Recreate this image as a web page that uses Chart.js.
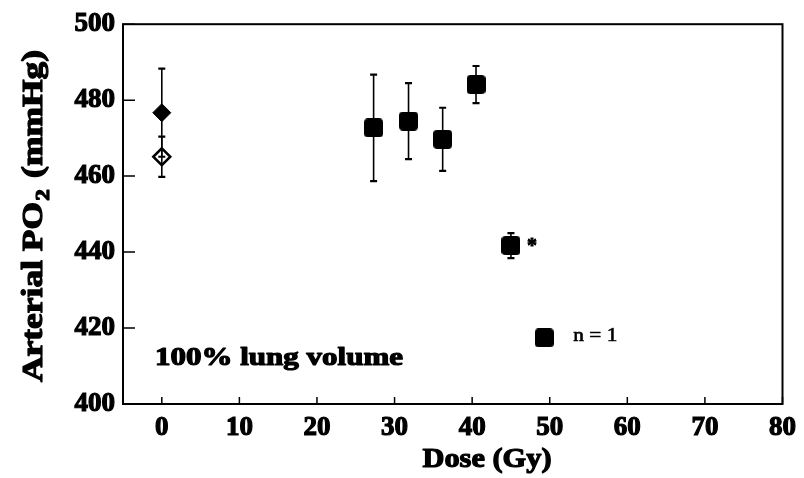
<!DOCTYPE html>
<html><head><meta charset="utf-8">
<script src="https://cdn.jsdelivr.net/npm/chart.js@4"></script>
<style>html,body{margin:0;padding:0;background:#fff}#wrap{width:804px;height:478px}</style>
</head><body><div id="wrap"><canvas id="c" width="804" height="478"></canvas></div>
<script>
// ---- data ----
const xTickValues = [0, 10, 20, 30, 40, 50, 60, 70, 80];
const yTickValues = [400, 420, 440, 460, 480, 500];
const controlDose = [0];
const controlFilledPO2 = [476.7];
const controlFilledErr = [11.6];
const controlOpenPO2 = [465.1];
const controlOpenErr = [5.3];
const irradDose = [27.3, 31.8, 36.2, 40.5, 45.0];
const irradPO2 = [472.7, 474.5, 469.7, 484.1, 441.7];
const irradErr = [14.0, 10.0, 8.3, 4.9, 3.3];
const singleDose = [49.3];
const singlePO2 = [417.4];
const xTitle = 'Dose (Gy)';
const yTitleParts = ['Arterial PO', '2', ' (mmHg)'];
const panelLabel = '100% lung volume';
const singleLabel = 'n = 1';
const sigMark = '*';
const sigIndex = 4;

const FONT = "'Liberation Serif', 'Times New Roman', serif";
const pts = (xs, ys) => xs.map((x, i) => ({x: x, y: ys[i]}));

function roundedSquare(size, r) {
  const c = document.createElement('canvas');
  c.width = size; c.height = size;
  const g = c.getContext('2d');
  g.fillStyle = '#000';
  g.beginPath();
  g.moveTo(r, 0); g.lineTo(size - r, 0); g.quadraticCurveTo(size, 0, size, r);
  g.lineTo(size, size - r); g.quadraticCurveTo(size, size, size - r, size);
  g.lineTo(r, size); g.quadraticCurveTo(0, size, 0, size - r);
  g.lineTo(0, r); g.quadraticCurveTo(0, 0, r, 0);
  g.closePath(); g.fill();
  return c;
}
const squareMark = roundedSquare(19, 4);

const errorBarPlugin = {
  id: 'errorBars',
  afterDatasetsDraw(chart) {
    const ctx = chart.ctx, xs = chart.scales.x, ys = chart.scales.y;
    ctx.save();
    ctx.strokeStyle = '#000';
    chart.data.datasets.forEach(ds => {
      if (!ds.errorBars) return;
      ds.data.forEach((p, i) => {
        const e = ds.errorBars[i];
        const px = xs.getPixelForValue(p.x);
        const top = ys.getPixelForValue(p.y + e);
        const bot = ys.getPixelForValue(p.y - e);
        ctx.lineWidth = 1.6;
        ctx.beginPath(); ctx.moveTo(px, top); ctx.lineTo(px, bot); ctx.stroke();
        ctx.lineWidth = 2.2;
        ctx.beginPath();
        ctx.moveTo(px - 3.5, top); ctx.lineTo(px + 3.5, top);
        ctx.moveTo(px - 3.5, bot); ctx.lineTo(px + 3.5, bot);
        ctx.stroke();
      });
    });
    ctx.restore();
  }
};

function fitText(ctx, text, font, x, y, w, align, stroke) {
  ctx.save();
  ctx.font = font;
  const m = ctx.measureText(text).width;
  const s = w / m;
  ctx.translate(x, y);
  ctx.scale(s, 1);
  ctx.textAlign = 'left';
  const ox = align === 'center' ? -m / 2 : 0;
  ctx.fillText(text, ox, 0);
  if (stroke) { ctx.lineWidth = stroke; ctx.strokeText(text, ox, 0); }
  ctx.restore();
}

const framePlugin = {
  id: 'frame',
  afterDraw(chart) {
    const ctx = chart.ctx, a = chart.chartArea, xs = chart.scales.x, ys = chart.scales.y;
    ctx.save();
    ctx.strokeStyle = '#000';
    ctx.fillStyle = '#000';
    ctx.lineWidth = 2;
    ctx.strokeRect(a.left, a.top, a.right - a.left, a.bottom - a.top);
    ctx.lineWidth = 1.5;
    ctx.beginPath();
    yTickValues.forEach(v => {
      const py = ys.getPixelForValue(v);
      ctx.moveTo(a.left, py); ctx.lineTo(a.left + 12, py);
    });
    xTickValues.forEach(v => {
      const px = xs.getPixelForValue(v);
      ctx.moveTo(px, a.bottom); ctx.lineTo(px, a.bottom - 7);
    });
    ctx.stroke();

    ctx.textBaseline = 'middle';
    ctx.lineJoin = 'round';
    // x title
    fitText(ctx, xTitle, 'bold 28px ' + FONT, 487, 460, 129, 'center', 1.2);
    // y title with subscript
    ctx.save();
    ctx.translate(35, 216);
    ctx.rotate(-Math.PI / 2);
    const fMain = 'bold 29px ' + FONT, fSub = 'bold 19px ' + FONT;
    ctx.font = fMain; const w1 = ctx.measureText(yTitleParts[0]).width;
    ctx.font = fSub; const w2 = ctx.measureText(yTitleParts[1]).width + 3;
    ctx.font = fMain; const w3 = ctx.measureText(yTitleParts[2]).width;
    const tot = w1 + w2 + w3;
    const s = 332 / tot;
    ctx.scale(s, 1);
    ctx.lineWidth = 1.2;
    let cx = -tot / 2;
    ctx.textAlign = 'left';
    ctx.font = fMain; ctx.fillText(yTitleParts[0], cx, 0); ctx.strokeText(yTitleParts[0], cx, 0); cx += w1;
    ctx.font = fSub; ctx.fillText(yTitleParts[1], cx + 1, 9); ctx.strokeText(yTitleParts[1], cx + 1, 9); cx += w2;
    ctx.font = fMain; ctx.fillText(yTitleParts[2], cx, 0); ctx.strokeText(yTitleParts[2], cx, 0);
    ctx.restore();
    // annotations
    fitText(ctx, panelLabel, 'bold 26px ' + FONT, 155, 358, 248, 'left', 1.2);
    const sx = xs.getPixelForValue(singleDose[0]);
    const sy = ys.getPixelForValue(singlePO2[0]);
    fitText(ctx, singleLabel, '18px ' + FONT, sx + 29, sy - 2, 44, 'left', 0.6);
    const ax = xs.getPixelForValue(irradDose[sigIndex]) + 21;
    const ay = ys.getPixelForValue(irradPO2[sigIndex]);
    ctx.font = 'bold 20px ' + FONT;
    ctx.textAlign = 'center';
    ctx.textBaseline = 'alphabetic';
    ctx.fillText(sigMark, ax, ay + 6);
    ctx.lineWidth = 1; ctx.strokeText(sigMark, ax, ay + 6);
    ctx.restore();
  }
};

const tickFont = {family: FONT, size: 27, weight: 'bold'};

new Chart(document.getElementById('c'), {
  type: 'scatter',
  data: {
    datasets: [
      {data: pts(controlDose, controlOpenPO2), errorBars: controlOpenErr, pointStyle: 'rectRot', pointRadius: 8.5,
       backgroundColor: '#fff', borderColor: '#000', borderWidth: 2.5},
      {data: pts(controlDose, controlFilledPO2), errorBars: controlFilledErr, pointStyle: 'rectRot', pointRadius: 9,
       backgroundColor: '#000', borderColor: '#000', borderWidth: 1},
      {data: pts(irradDose, irradPO2), errorBars: irradErr, pointStyle: squareMark, pointRadius: 10},
      {data: pts(singleDose, singlePO2), pointStyle: squareMark, pointRadius: 10}
    ]
  },
  options: {
    responsive: false,
    animation: false,
    devicePixelRatio: 1,
    layout: {padding: {left: 0, right: 21, top: 20, bottom: 0}},
    plugins: {legend: {display: false}, tooltip: {enabled: false}},
    scales: {
      x: {
        type: 'linear', min: -5, max: 80,
        afterBuildTicks: s => { s.ticks = xTickValues.map(v => ({value: v})); },
        afterFit: s => { s.height = 74; },
        grid: {display: false, drawTicks: false},
        border: {display: false},
        ticks: {color: '#000', padding: 8, font: tickFont, maxRotation: 0,
                textStrokeColor: '#000', textStrokeWidth: 1.2}
      },
      y: {
        type: 'linear', min: 400, max: 500,
        afterBuildTicks: s => { s.ticks = yTickValues.map(v => ({value: v})); },
        afterFit: s => { s.width = 123; },
        grid: {display: false, drawTicks: false},
        border: {display: false},
        ticks: {color: '#000', padding: 8, font: tickFont,
                textStrokeColor: '#000', textStrokeWidth: 1.2}
      }
    }
  },
  plugins: [errorBarPlugin, framePlugin]
});
</script>
</body></html>
